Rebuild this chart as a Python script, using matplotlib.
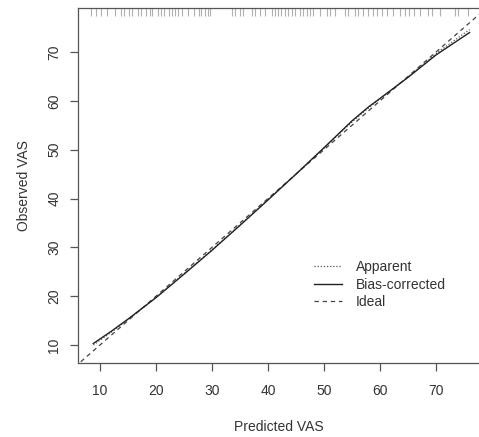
import numpy as np
import matplotlib
matplotlib.use('Agg')
import matplotlib.pyplot as plt
import matplotlib.transforms as mtransforms

plt.rcParams['font.family'] = ['Liberation Sans', 'DejaVu Sans']

# calibration curves
bias_x = [8.8, 12, 15, 20, 25, 30, 35, 40, 45, 50, 55, 58, 60, 65, 70, 76]
bias_y = [10.3, 12.8, 15.3, 19.7, 24.5, 29.4, 34.5, 39.7, 45.0, 50.4, 55.9, 58.8, 60.5, 64.8, 69.4, 74.0]

apparent_x = [8.8, 12, 15, 20, 25, 30, 35, 40, 45, 50, 55, 58, 60, 65, 70, 76]
apparent_y = [10.0, 12.6, 15.2, 19.7, 24.6, 29.5, 34.6, 39.8, 45.0, 50.3, 55.7, 58.6, 60.4, 64.9, 69.7, 74.6]

ideal = [0, 100]

# predicted values shown as rug on top
rug_x = [8.4, 9.2, 10.2, 11.3, 12.6, 13.7, 14.2, 15.2, 15.8, 16.7, 17.4, 18.2, 18.9,
         19.3, 20.3, 20.9, 21.5, 22.3, 22.8, 23.4, 24.0, 24.7, 25.8, 26.7, 27.6, 28.0,
         28.8, 29.3, 29.6, 33.5, 34.1, 35.0, 35.6, 37.1, 37.7, 38.6, 39.5, 40.7, 41.3,
         41.8, 42.4, 43.0, 43.6, 44.2, 44.8, 45.7, 46.3, 46.9, 47.5, 48.1, 49.3, 50.5,
         51.1, 52.0, 53.75, 54.3, 55.5, 56.1, 57.0, 57.9, 58.8, 59.4, 60.3, 61.2, 62.4,
         63.6, 64.5, 65.1, 66.0, 67.1, 68.6, 69.2, 70.7, 73.4, 74.0, 75.8]

fig = plt.figure(figsize=(4.79, 4.37), dpi=100)
ax = fig.add_axes([78 / 479, 1 - 363 / 437, 401 / 479, 355 / 437])

ax.plot(ideal, ideal, color='#444444', lw=0.9, dashes=(3.5, 3), label='Ideal', zorder=2)
ax.plot(apparent_x, apparent_y, color='#555555', lw=0.9, dashes=(1, 1.5), label='Apparent', zorder=3)
ax.plot(bias_x, bias_y, color='#222222', lw=1.0, label='Bias-corrected', zorder=4)

trans = mtransforms.blended_transform_factory(ax.transData, ax.transAxes)
ax.vlines(rug_x, 1 - 8 / 355, 1, transform=trans, color='#b0b0b0', lw=0.8)

ax.set_xlim(6.07, 77.68)
ax.set_ylim(6.31, 79.02)
ax.set_xticks([10, 20, 30, 40, 50, 60, 70])
ax.set_yticks([10, 20, 30, 40, 50, 60, 70])
for lab in ax.get_yticklabels():
    lab.set_rotation(90)
    lab.set_va('center')
ax.tick_params(direction='out', length=6, width=0.9, color='#555555', labelsize=10,
               labelcolor='#333333')
ax.tick_params(axis='x', pad=9)
ax.tick_params(axis='y', pad=6)
for s in ['left', 'bottom', 'top']:
    ax.spines[s].set_color('#555555')
    ax.spines[s].set_linewidth(0.9)
ax.spines['right'].set_visible(False)

ax.set_xlabel('Predicted VAS', fontsize=10, color='#333333', labelpad=16)
ax.set_ylabel('Observed VAS', fontsize=10, color='#333333', labelpad=12)

handles, labels = ax.get_legend_handles_labels()
order = [1, 2, 0]
ax.legend([handles[i] for i in order], [labels[i] for i in order], frameon=False,
          fontsize=10, handlelength=2.0, handletextpad=1.0, labelspacing=0.25,
          loc='upper left', bbox_to_anchor=(0.575, 0.305), borderaxespad=0,
          labelcolor='#333333')

fig.savefig('out.png', dpi=100)
